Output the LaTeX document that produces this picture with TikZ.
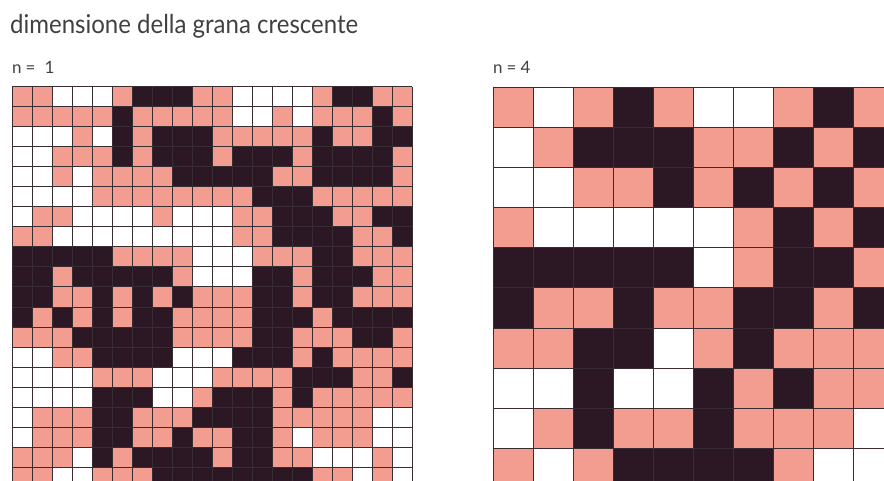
\documentclass[tikz,border=0pt]{standalone}
\usepackage{fontspec}
\setmainfont{Lato}
\definecolor{salmon}{RGB}{243,157,145}
\definecolor{darkcell}{RGB}{44,24,36}
\definecolor{gridcol}{RGB}{55,45,50}
\definecolor{textgray}{RGB}{65,65,65}
\tikzset{
  fillP/.style={fill=salmon},
  fillW/.style={fill=white},
  fillB/.style={fill=darkcell},
  gridline/.style={draw=gridcol,line width=1pt},
  lbl/.style={anchor=base west,text=textgray,inner sep=0pt}
}
\begin{document}
\begin{tikzpicture}[x=1pt,y=-1pt]
\useasboundingbox (0,0) rectangle (884,481);
\clip (0,0) rectangle (884,481);
\fill[white] (0,0) rectangle (884,481);
% left grid, n = 1
\foreach \row [count=\r from 0] in {
 {P,P,W,W,W,P,B,B,B,P,P,W,W,W,W,P,B,B,P,P},
 {P,P,P,P,P,B,P,P,P,P,P,W,W,P,W,P,P,P,B,P},
 {W,W,W,P,W,B,P,B,B,B,P,P,P,P,P,B,P,P,B,B},
 {W,W,P,P,P,B,P,B,B,B,P,B,B,B,P,B,B,B,B,P},
 {W,W,P,W,P,P,P,P,B,B,B,B,B,P,P,B,B,B,B,P},
 {W,W,W,W,P,P,P,P,P,P,P,P,B,B,B,P,P,P,P,P},
 {W,P,P,W,W,W,W,P,W,W,W,P,P,B,B,B,P,P,B,B},
 {P,P,W,W,W,W,W,W,W,W,W,P,P,B,B,B,B,P,P,B},
 {B,B,B,B,B,P,P,P,P,W,W,W,P,P,P,B,B,P,P,P},
 {B,B,P,B,B,B,B,B,P,W,W,W,B,B,P,B,B,B,P,P},
 {B,B,P,P,B,P,B,P,B,P,P,P,B,B,P,B,B,P,P,P},
 {B,P,B,P,B,P,B,B,P,P,P,P,B,B,B,P,B,B,B,B},
 {P,P,P,B,B,B,B,B,P,P,P,P,B,B,P,P,P,B,B,P},
 {W,W,P,P,B,B,B,B,W,W,W,B,B,B,P,B,P,P,P,P},
 {W,W,W,W,P,P,P,W,W,W,P,P,P,P,B,B,B,P,P,B},
 {W,W,W,W,B,B,B,W,W,P,B,B,B,P,B,P,P,P,P,P},
 {W,P,P,P,B,B,P,P,P,B,B,B,B,P,P,P,P,P,W,W},
 {W,P,P,P,B,B,P,P,B,P,P,B,B,P,W,P,P,P,W,W},
 {P,P,P,W,B,P,B,B,B,B,P,B,B,P,P,W,W,W,P,W},
 {P,P,W,W,P,P,P,B,B,B,B,B,B,B,B,P,P,W,P,W}} {
  \foreach \c [count=\k from 0] in \row {
    \fill[fill\c] (12+20*\k,87+20*\r) rectangle ++(20,20);
  }
}
\foreach \k in {0,...,20} {
  \draw[gridline] (12+20*\k,87) -- (12+20*\k,487);
  \draw[gridline] (12,87+20*\k) -- (412,87+20*\k);
}
% right grid, n = 4
\foreach \row [count=\r from 0] in {
 {P,W,P,B,P,W,W,P,B,P},
 {W,P,B,B,B,P,P,B,P,B},
 {W,W,P,P,B,P,B,P,B,P},
 {P,W,W,W,W,W,P,B,P,B},
 {B,B,B,B,B,W,P,B,B,P},
 {B,P,P,B,P,P,B,B,P,B},
 {P,P,B,B,W,P,B,P,P,P},
 {W,W,B,W,W,B,P,B,P,P},
 {W,P,B,P,P,B,P,P,P,W},
 {P,W,P,B,B,B,B,P,W,W}} {
  \foreach \c [count=\k from 0] in \row {
    \fill[fill\c] (493+40*\k,88+40*\r) rectangle ++(40,40);
  }
}
\foreach \k in {0,...,10} {
  \draw[gridline] (493+40*\k,88) -- (493+40*\k,488);
  \draw[gridline] (493,88+40*\k) -- (893,88+40*\k);
}
% labels
\node[lbl,font=\fontsize{26}{30}\selectfont] (title) at (10,34)
  {\resizebox{348pt}{\height}{dimensione della grana crescente}};
\node[lbl,font=\fontsize{17}{20}\selectfont] (n1) at (12,74)
  {n\hspace{4pt}=\hspace{9pt}1};
\node[lbl,font=\fontsize{17}{20}\selectfont] (n4) at (493,74)
  {n\hspace{4pt}=\hspace{4pt}4};
\end{tikzpicture}
\end{document}
